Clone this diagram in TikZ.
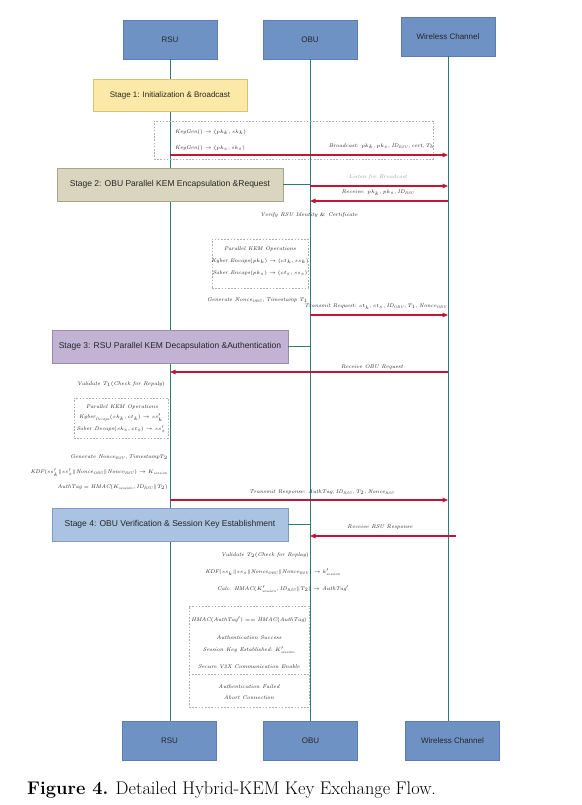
\documentclass[tikz,border=0pt]{standalone}
\usepackage{fontspec}
\newfontfamily\arial{Liberation Sans}
\usetikzlibrary{arrows.meta}
\definecolor{actorfill}{HTML}{6F92C4}
\definecolor{actorline}{HTML}{5B7DB0}
\definecolor{lifeteal}{HTML}{2B7B78}
\definecolor{msgred}{HTML}{C4143A}
\definecolor{s1fill}{HTML}{FCE9A8}
\definecolor{s1line}{HTML}{D8C27A}
\definecolor{s2fill}{HTML}{DAD5BF}
\definecolor{s2line}{HTML}{A9A48E}
\definecolor{s3fill}{HTML}{C2B3D4}
\definecolor{s3line}{HTML}{9C8AB3}
\definecolor{s4fill}{HTML}{A9C3E1}
\definecolor{s4line}{HTML}{7F9CC4}
\definecolor{txt}{HTML}{222222}
\definecolor{dashgray}{HTML}{B0B0B0}
\newcommand\mi[1]{\mathit{#1}}
\begin{document}
\begin{tikzpicture}[x=1pt,y=-1pt,
  actor/.style={draw=actorline, fill=actorfill, line width=0.6pt, minimum width=94pt, minimum height=39pt, inner sep=0pt, font=\arial\fontsize{8}{9}\selectfont, text=black!85},
  stagebox/.style={draw, line width=0.6pt, minimum height=33pt, inner sep=0pt, font=\arial\fontsize{8.5}{10}\selectfont, text=black!85},
  life/.style={draw=lifeteal, line width=1pt},
  msg/.style={draw=msgred, line width=1.1pt, -{Triangle[length=5.5pt,width=4.5pt]}},
  note/.style={font=\fontsize{5.4}{6.4}\selectfont, inner sep=0pt, text=txt},
  dbox/.style={draw=dashgray, dash pattern=on 1.6pt off 1.6pt, line width=0.5pt, inner sep=0pt}
]
\fill[white] (0,0) rectangle (581,805);
\useasboundingbox (0,0) rectangle (581,805);

% actors
\node[actor] (rt) at (170,39.5) {RSU};
\node[actor] (ot) at (310,39.5) {OBU};
\node[actor] (wt) at (448,36.5) {Wireless Channel};
\node[actor] (rb) at (169.5,741) {RSU};
\node[actor] (ob) at (310.5,741) {OBU};
\node[actor] (wb) at (452.5,741) {Wireless Channel};

% lifelines
\draw[life] (rt.south) -- (rt.south |- rb.north);
\draw[life] (ot.south) -- (ot.south |- ob.north);
\draw[life] (wt.south) -- (wt.south |- wb.north);

% dashed boxes
\node[dbox, minimum width=279pt, minimum height=38pt] (d1) at (293.5,140) {};
\node[dbox, minimum width=96pt, minimum height=49pt] (d2) at (260,263.5) {};
\node[dbox, minimum width=94pt, minimum height=40pt] (d3) at (121,418) {};
\node[dbox, minimum width=120pt, minimum height=101pt] (d4) at (249,656.5) {};
\draw[dashgray, dash pattern=on 1.6pt off 1.6pt, line width=0.5pt] (d4.west |- 0,674) -- (d4.east |- 0,674);

% stage boxes
\node[stagebox, draw=s1line, fill=s1fill, minimum width=154pt, minimum height=32pt, font=\arial\fontsize{8}{9}\selectfont] (s1) at (170,95) {Stage 1: Initialization \& Broadcast};
\node[stagebox, draw=s2line, fill=s2fill, minimum width=226pt] (s2) at (170,184.5) {Stage 2: OBU Parallel KEM Encapsulation \&Request};
\node[stagebox, draw=s3line, fill=s3fill, minimum width=236pt] (s3) at (170,346.5) {Stage 3: RSU Parallel KEM Decapsulation \&Authentication};
\node[stagebox, draw=s4line, fill=s4fill, minimum width=236pt] (s4) at (170,524.5) {Stage 4: OBU Verification \& Session Key Establishment};
\draw[life] (s2.east) -- (s2.east -| ot.south);
\draw[life] (s3.east) -- (s3.east -| ot.south);
\draw[life] (s4.east) -- (s4.east -| ot.south);

% Stage 1 content
\node[note, anchor=west] (k1) at (175,132) {$\mi{KeyGen}() \rightarrow (pk_k, sk_k)$};
\node[note, anchor=west] (k2) at (175,148) {$\mi{KeyGen}() \rightarrow (pk_s, sk_s)$};
\node[note, anchor=east] (bc) at (434,146) {$\mi{Broadcast}{:}\ pk_k, pk_s, \mi{ID}_{\mi{RSU}}, \mi{cert}, T_b$};
\draw[msg] (rt.south |- 0,155) -- (wt.south |- 0,155);

% Stage 2 content
\node[note, text=gray!80] (lb) at (378,177) {$\mi{Listen\ for\ Broadcast}$};
\draw[msg] (ot.south |- 0,186) -- (wt.south |- 0,186);
\node[note] (rc) at (378,192.5) {$\mi{Receive}{:}\ pk_k, pk_s, \mi{ID}_{\mi{RSU}}$};
\draw[msg] (wt.south |- 0,201) -- (ot.south |- 0,201);
\node[note] (vr) at (309,215) {$\mi{Verify\ RSU\ Identity\ \&\ Certificate}$};
\node[note] (p1) at (260,249) {$\mi{Parallel\ KEM\ Operations}$};
\node[note] (ke) at (260,261) {$\mi{Kyber.Encaps}(pk_k) \rightarrow (ct_k, ss_k)$};
\node[note] (se) at (260,273) {$\mi{Saber.Encaps}(pk_s) \rightarrow (ct_s, ss_s)$};
\node[note, anchor=east] (gn) at (308,300) {$\mi{Generate\ Nonce}_{\mi{OBU}}, \mi{Timestamp}\ T_1$};
\node[note, anchor=east] (tr) at (447,306.5) {$\mi{Transmit\ Request}{:}\ ct_k, ct_s, \mi{ID}_{\mi{OBU}}, T_1, \mi{Nonce}_{\mi{OBU}}$};
\draw[msg] (ot.south |- 0,315) -- (wt.south |- 0,315);

% Stage 3 content
\node[note] (ro) at (372,367.5) {$\mi{Receive\ OBU\ Request}$};
\draw[msg] (wt.south |- 0,372) -- (rt.south |- 0,372);
\node[note, anchor=east] (v1) at (165,384) {$\mi{Validate}\ T_1(\mi{Check\ for\ Repaly})$};
\node[note] (p2) at (122,407) {$\mi{Parallel\ KEM\ Operations}$};
\node[note] (kd) at (121,418) {$\mi{Kyber}_{\mi{Decaps}}(sk_k, ct_k) \rightarrow ss'_k$};
\node[note] (sd) at (121,429) {$\mi{Saber.Decaps}(sk_s, ct_s) \rightarrow ss'_s$};
\node[note, anchor=east] (g2) at (168,457) {$\mi{Generate\ Nonce}_{\mi{RSU}}, \mi{Timestamp}T_2$};
\node[note, anchor=east] (kdf1) at (168,473) {$\mi{KDF}(ss'_k\|ss'_s\|\mi{Nonce}_{\mi{OBU}}\|\mi{Nonce}_{\mi{RSU}}) \rightarrow K_{\mi{session}}$};
\node[note, anchor=east] (at) at (168,487) {$\mi{AuthTag} = \mi{HMAC}(K_{\mi{session}}, \mi{ID}_{\mi{RSU}}\|T_2)$};
\node[note] (tp) at (322,492) {$\mi{Transmit\ Response}{:}\ \mi{AuthTag}, \mi{ID}_{\mi{RSU}}, T_2, \mi{Nonce}_{\mi{RSU}}$};
\draw[msg] (rt.south |- 0,500) -- (wt.south |- 0,500);

% Stage 4 content
\node[note] (rr) at (380,527.5) {$\mi{Receive\ RSU\ Response}$};
\coordinate (m7s) at (456,536);
\draw[msg] (m7s) -- (ot.south |- m7s);
\node[note, anchor=east] (v2) at (309,555) {$\mi{Validate}\ T_2(\mi{Check\ for\ Replay})$};
\node[note] (kdf2) at (273,572) {$\mi{KDF}(ss_k\|ss_s\|\mi{Nonce}_{\mi{OBU}}\|\mi{Nonce}_{\mi{RSU}}) \rightarrow k'_{\mi{session}}$};
\node[note] (hm) at (283,589) {$\mi{Calc.\ HMAC}(K'_{\mi{session}}, \mi{ID}_{\mi{RSU}}\|T_2) \rightarrow \mi{AuthTag}'$};
\node[note] (eq) at (249,620) {$\mi{HMAC}(\mi{AuthTag}') == \mi{HMAC}(\mi{AuthTag})$};
\node[note] (as) at (249,638) {$\mi{Authentication\ Success}$};
\node[note] (sk) at (249,650) {$\mi{Session\ Key\ Established}{:}\ K'_{\mi{session}}$};
\node[note] (sv) at (249,667) {$\mi{Secure\ V2X\ Communication\ Enable}$};
\node[note] (af) at (249,687) {$\mi{Authentication\ Failed}$};
\node[note] (ac) at (249,698) {$\mi{Abort\ Connection}$};

% caption
\node[anchor=base west, inner sep=0pt, font=\fontsize{18.3}{20}\selectfont] (cap) at (27,794) {\textbf{Figure 4.} Detailed Hybrid-KEM Key Exchange Flow.};
\end{tikzpicture}
\end{document}
